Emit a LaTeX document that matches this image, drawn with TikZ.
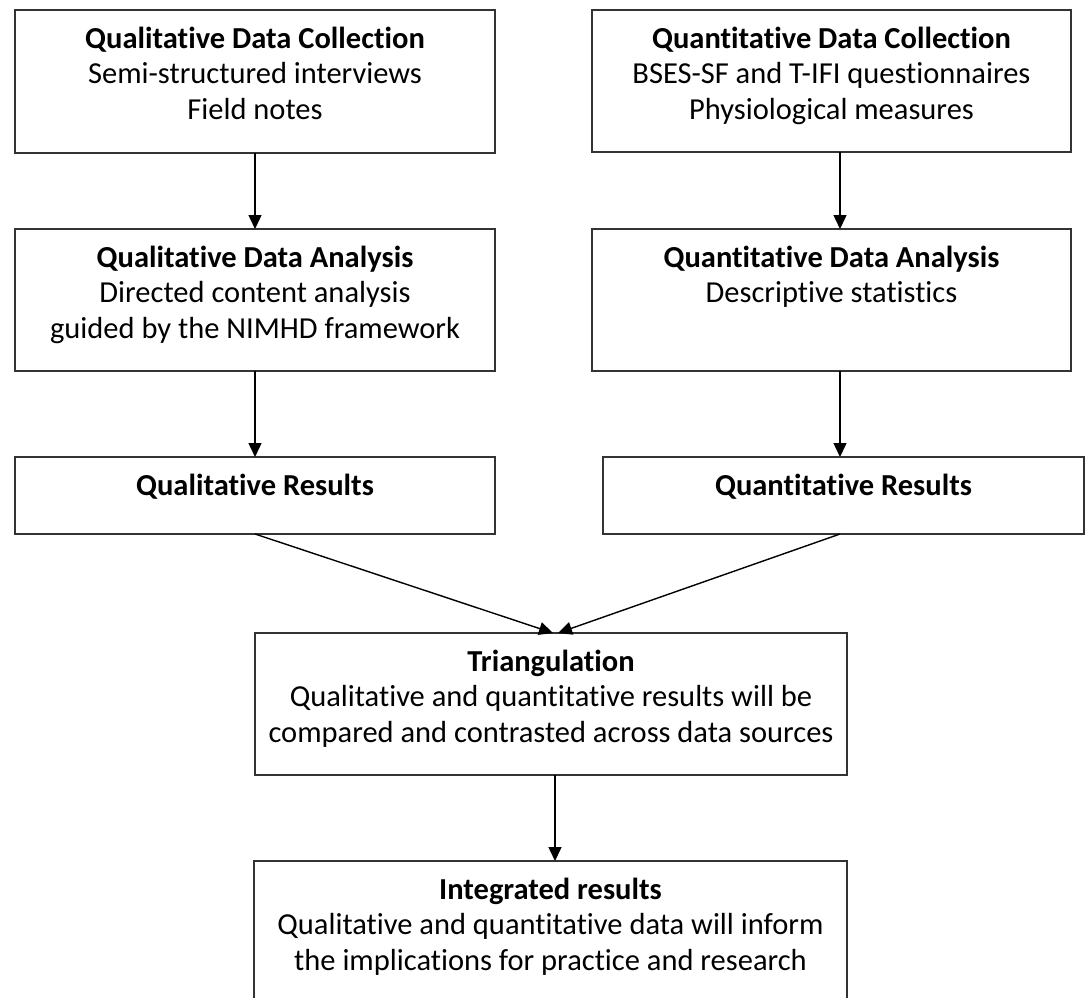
\documentclass[tikz,border=0pt]{standalone}
\usepackage{fontspec}
\setmainfont[Ligatures=NoCommon]{Carlito}
\usetikzlibrary{arrows.meta}
\newcommand{\bxc}[3]{\parbox[c][#2][t]{#1}{\centering\fontsize{30.5}{35.5}\selectfont\rule{0pt}{38pt}#3\par}}
\begin{document}
\begin{tikzpicture}[x=1pt,y=-1pt,
  box/.style={draw=black!80, line width=1.6pt, inner sep=0pt, outer sep=0pt},
  arr/.style={-{Triangle[length=14pt,width=13pt]}, line width=1.4pt, black}]
\useasboundingbox (0,0) rectangle (1089,997);
\clip (0,0) rectangle (1089,997);
\fill[white] (0,0) rectangle (1089,997);
\node[box] (b1) at (255,81.5) {\bxc{480pt}{143pt}{\textbf{Qualitative Data Collection}\\Semi-structured interviews\\Field notes}};
\node[box] (b2) at (831.5,81) {\bxc{479pt}{142pt}{\textbf{Quantitative Data Collection}\\BSES-SF and T-IFI questionnaires\\Physiological measures}};
\node[box] (b3) at (255,300) {\bxc{480pt}{142pt}{\textbf{Qualitative Data Analysis}\\Directed content analysis\\guided by the NIMHD framework}};
\node[box] (b4) at (831.5,300) {\bxc{479pt}{142pt}{\textbf{Quantitative Data Analysis}\\Descriptive statistics}};
\node[box] (b5) at (255,495.5) {\bxc{480pt}{77pt}{\textbf{Qualitative Results}}};
\node[box] (b6) at (843.5,495.5) {\bxc{481pt}{77pt}{\textbf{Quantitative Results}}};
\node[box] (tri) at (551,704) {\bxc{592pt}{142pt}{\textbf{Triangulation}\\Qualitative and quantitative results will be\\compared and contrasted across data sources}};
\node[box] (int) at (550.5,936) {\bxc{593pt}{150pt}{\textbf{Integrated results}\\Qualitative and quantitative data will inform\\the implications for practice and research}};
\draw[arr] (b1.south) -- (b3.north);
\draw[arr] ([xshift=8.5pt]b2.south) -- ([xshift=8.5pt]b4.north);
\draw[arr] (b3.south) -- (b5.north);
\draw[arr] ([xshift=8.5pt]b4.south) -- ([xshift=-3.5pt]b6.north);
\draw[arr] (b5.south) -- ([xshift=2pt]tri.north);
\draw[arr] ([xshift=-3.5pt]b6.south) -- ([xshift=7pt]tri.north);
\draw[arr] ([xshift=4pt]tri.south) -- ([xshift=4.5pt]int.north);
\end{tikzpicture}
\end{document}
